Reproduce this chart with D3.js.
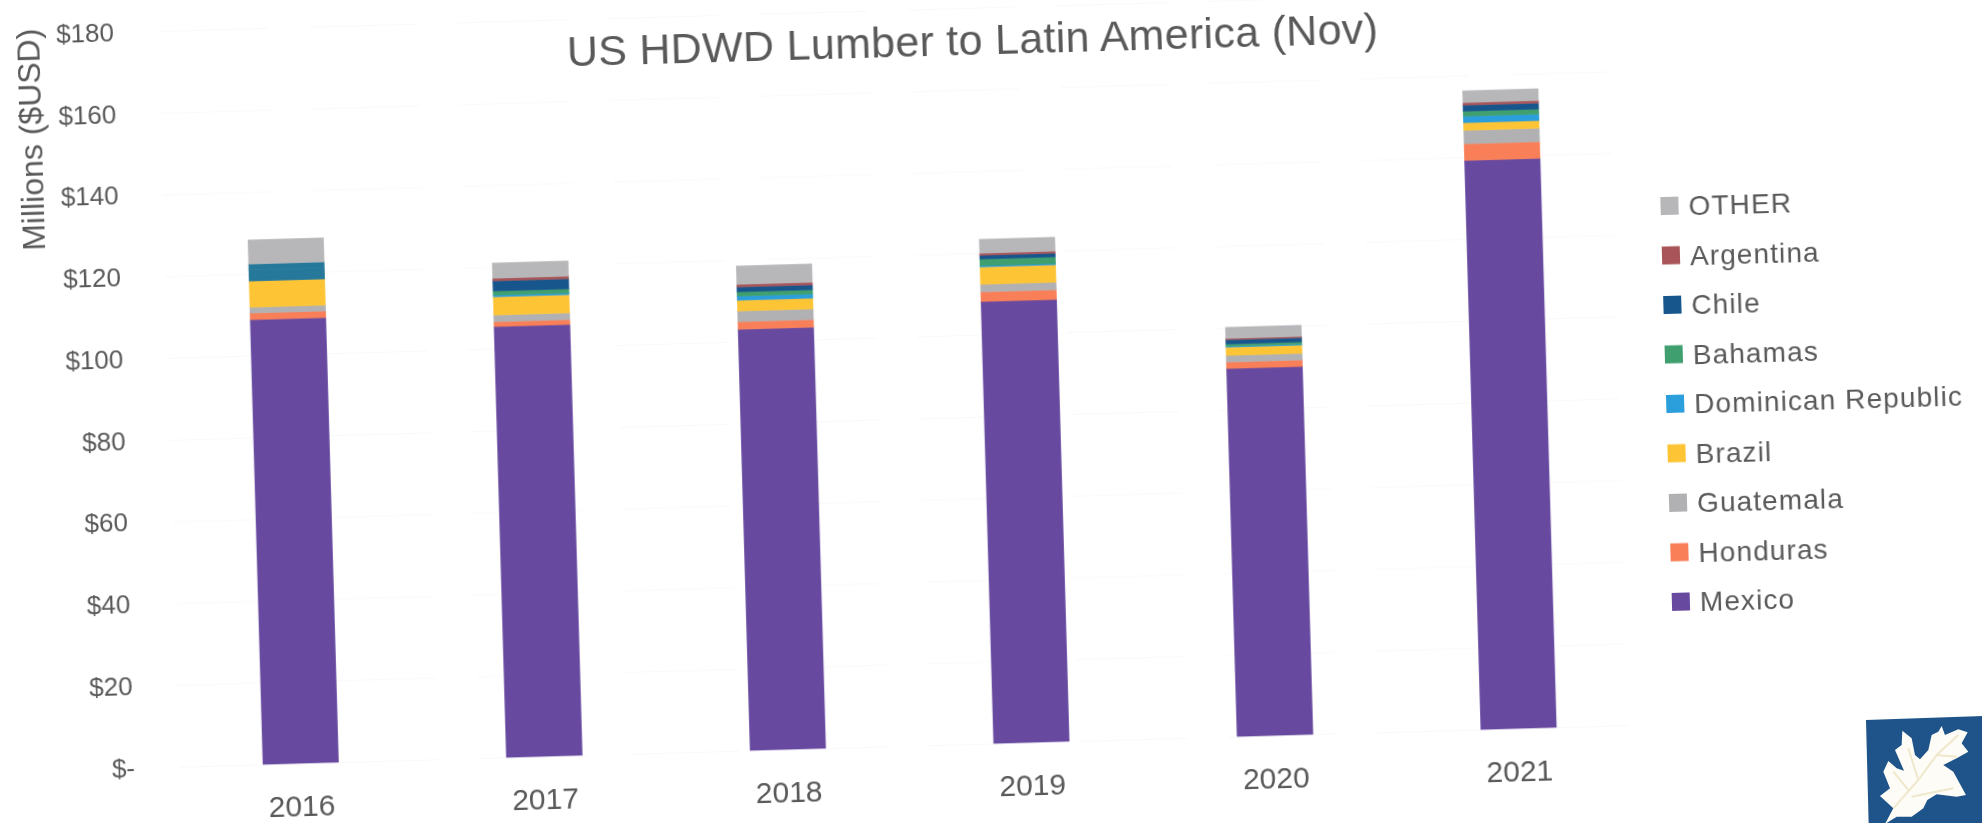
<!DOCTYPE html>
<meta charset="utf-8" />
<script src="https://d3js.org/d3.v7.min.js"></script>
<style>
  html, body { margin: 0; background: #fff; overflow: hidden; }
  svg { display: block; font-family: "Liberation Sans", Arial, sans-serif; }
</style>
<div id="chart"></div>
<script>
  // Values, $ millions
  const years = ["2016", "2017", "2018", "2019", "2020", "2021"];
  const mexico = [108.8, 105.4, 103.0, 108.1, 90.0, 139.2];
  const honduras = [1.6, 1.2, 1.9, 2.4, 1.6, 4.1];
  const guatemala = [1.4, 1.6, 2.6, 1.8, 1.6, 3.25];
  const brazil = [6.4, 4.5, 2.6, 4.3, 2.0, 1.9];
  const dominican = [1.4, 0.4, 1.05, 0.3, 0.25, 1.6];
  const bahamas = [1.4, 1.0, 1.05, 1.6, 0.56, 1.2];
  const chile = [1.4, 2.5, 1.2, 0.9, 1.05, 1.5];
  const argentina = [0, 0.6, 0.6, 0.5, 0.3, 0.6];
  const other = [5.9, 3.7, 4.5, 3.4, 2.7, 2.9];

  const seriesNames = ["Mexico", "Honduras", "Guatemala", "Brazil", "Dominican Republic", "Bahamas", "Chile", "Argentina", "OTHER"];
  const seriesValues = [mexico, honduras, guatemala, brazil, dominican, bahamas, chile, argentina, other];
  const seriesColors = ["#6749a0", "#f87f58", "#b1b1b4", "#fdc536", "#2b9edc", "#3f9f6e", "#17568c", "#a85459", "#b7b7ba"];
  const yTicks = [0, 20, 40, 60, 80, 100, 120, 140, 160, 180];

  // the three small bands print as one teal block in the 2016 bar
  const mergedYear = "2016";
  const mergedNames = ["Dominican Republic", "Bahamas", "Chile"];
  const mergedColor = "#26789a";

  const svgWidth = 1982, svgHeight = 823;
  const textColor = "#595959";

  const svg = d3
    .select("#chart")
    .append("svg")
    .attr("width", svgWidth)
    .attr("height", svgHeight);

  // The page is a slightly crooked scan, so everything hangs off one rotation
  const page = svg
    .append("g")
    .attr("transform", "rotate(-1.64 135 768)")
    .style("filter", "blur(0.45px)");

  const rows = years.map(function (year, i) {
    const row = { year: year };
    seriesNames.forEach(function (name, s) {
      row[name] = seriesValues[s][i];
    });
    return row;
  });

  const x = d3
    .scaleBand()
    .domain(years)
    .range([179, 1641])
    .paddingInner(0.69)
    .paddingOuter(0.345);

  const y = d3.scaleLinear().domain([0, 180]).range([768, 32]);

  const stacked = d3.stack().keys(seriesNames)(rows);

  function bandColor(d) {
    if (d.year === mergedYear && mergedNames.includes(d.key)) return mergedColor;
    return seriesColors[seriesNames.indexOf(d.key)];
  }

  // Y axis, the tick lines are the nearly gone gridlines
  const yAxis = page
    .append("g")
    .attr("transform", "translate(179,0)")
    .call(
      d3
        .axisLeft(y)
        .tickValues(yTicks)
        .tickSize(-1450)
        .tickPadding(44)
        .tickFormat((d) => (d === 0 ? "$-" : "$" + d))
    );
  yAxis.select(".domain").remove();
  yAxis.selectAll("line").attr("stroke", "#f9f9f9").attr("stroke-dasharray", "110 40");
  yAxis.selectAll("text").attr("fill", textColor).style("font-size", "26px");

  // X axis
  const xAxis = page
    .append("g")
    .attr("transform", "translate(0,768)")
    .call(d3.axisBottom(x).tickSize(0).tickPadding(32));
  xAxis.select(".domain").remove();
  xAxis.selectAll("text").attr("fill", textColor).style("font-size", "30px");

  // Bars, thin stroke of the same colour hides the seams the rotation leaves
  page
    .append("g")
    .selectAll("g")
    .data(stacked)
    .join("g")
    .selectAll("rect")
    .data(function (d) {
      return d.map((p) => ({ key: d.key, low: p[0], high: p[1], year: p.data.year }));
    })
    .join("rect")
    .attr("x", (d) => x(d.year))
    .attr("width", x.bandwidth())
    .attr("y", (d) => y(d.high))
    .attr("height", (d) => y(d.low) - y(d.high))
    .attr("fill", bandColor)
    .attr("stroke", bandColor)
    .attr("stroke-width", 0.6);

  // Title and y label
  page
    .append("text")
    .attr("x", 993)
    .attr("y", 79)
    .attr("text-anchor", "middle")
    .attr("fill", textColor)
    .style("font-size", "43px")
    .style("letter-spacing", "0.3px")
    .text("US HDWD Lumber to Latin America (Nov)");

  page
    .append("text")
    .attr("transform", "translate(60,137) rotate(-90)")
    .attr("text-anchor", "middle")
    .attr("fill", textColor)
    .style("font-size", "32px")
    .text("Millions ($USD)");

  // Legend, top entry is the top of the stack
  const legend = page
    .append("g")
    .selectAll("g")
    .data(seriesNames.slice().reverse())
    .join("g")
    .attr("transform", (d, i) => `translate(1685,${250 + i * 49.5})`);

  legend
    .append("rect")
    .attr("x", -9)
    .attr("y", -9)
    .attr("width", 18)
    .attr("height", 18)
    .attr("fill", (d) => seriesColors[seriesNames.indexOf(d)]);

  legend
    .append("text")
    .attr("x", 19)
    .attr("dy", "0.36em")
    .attr("fill", textColor)
    .style("font-size", "28px")
    .style("letter-spacing", "1.1px")
    .text((d) => d);

  // Oak leaf logo in the corner, drawn in crop pixels at 3x
  const logo = svg
    .append("g")
    .attr("transform", "translate(1840,700) scale(0.3333)")
    .style("filter", "blur(1px)");

  logo
    .append("path")
    .attr("fill", "#1e5489")
    .attr("d", "M78,60 L430,48 L430,372 L86,372 Z");

  logo
    .append("path")
    .attr("fill", "#fdfcf6")
    .attr(
      "d",
      "M135,372 L160,325 L120,288 L150,265 L130,215 L145,183 L170,205 L192,212 L165,150 L185,135 L187,92 L215,115 L225,165 L240,178 L265,150 L275,105 L295,95 L305,78 L315,105 L355,88 L383,97 L365,130 L385,155 L350,175 L310,195 L340,215 L378,285 L350,290 L290,283 L262,300 L250,325 L215,350 L170,350 Z"
    );

  logo
    .append("path")
    .attr("fill", "none")
    .attr("stroke", "#efe8cc")
    .attr("stroke-width", 6)
    .attr("d", "M160,325 L235,240 L290,165 L355,105 M235,240 L205,145 M205,270 L160,215 M215,290 L340,265 M290,165 L350,170");
</script>
